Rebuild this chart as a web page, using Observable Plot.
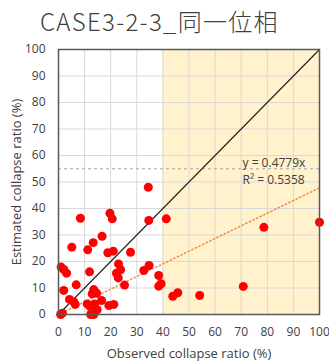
<!DOCTYPE html>
<html><head><meta charset="utf-8">
<script src="https://cdn.jsdelivr.net/npm/d3@7"></script>
<script src="https://cdn.jsdelivr.net/npm/@observablehq/plot@0.6"></script>
<style>
body{margin:0;background:#fff;}
#title{height:40px;box-sizing:border-box;padding:9px 0 0 40px;font:300 24px/1 "Noto Sans CJK JP";letter-spacing:1.3px;color:#404040;white-space:nowrap;}
</style></head><body>
<div id="title"></div>
<div id="chart"></div>
<script>
const titleText = "CASE3-2-3_同一位相";
const xLabel = "Observed collapse ratio (%)";
const yLabel = "Estimated collapse ratio (%)";
const xTicks = [0,10,20,30,40,50,60,70,80,90,100];
const yTicks = [0,10,20,30,40,50,60,70,80,90,100];
const observed  = [0.8,1.5,1.0,2.0,3.1,2.0,4.2,5.9,6.4,6.8,5.1,8.4,11.2,13.3,16.7,11.9,11.0,12.0,13.8,14.8,12.3,13.5,13.5,13.9,12.9,14.6,16.5,19.3,21.2,19.7,20.6,18.9,21.0,23.0,23.8,22.2,22.9,25.3,27.6,32.7,34.7,34.4,34.6,38.4,38.4,39.3,41.3,43.8,45.7,54.1,70.8,78.7,100];
const estimated = [0,0.5,17.9,17.0,15.6,9.1,5.7,4.7,3.8,11.2,25.4,36.3,24.4,27.1,29.5,16.1,4.0,3.1,4.0,1.8,0,0,9.4,8.4,7.8,8.0,5.3,3.4,3.8,38.2,36.1,23.3,23.9,19.1,16.9,15.6,13.8,11.1,23.5,16.6,18.5,48.0,35.5,14.7,10.7,11.6,36.1,6.9,8.2,7.2,10.6,32.9,34.8];
const shadedRange = [40, 100];
const refLevel = [55];
const diagX = [0, 100];
const slope = 0.4779;
const eqText = ["y = 0.4779x", "R² = 0.5358"];
const eqPos = [[70.5, 57.2], [70.5, 50.6]];

document.getElementById("title").textContent = titleText;
const points = observed.map((x,i)=>({x, y: estimated[i]}));
const diag = diagX.map(x=>({x, y:x}));
const trend = diagX.map(x=>({x, y: slope*x}));
const eq = eqText.map((t,i)=>({t, x: eqPos[i][0], y: eqPos[i][1]}));

const plot = Plot.plot({
  width: 329, height: 322,
  marginTop: 9, marginBottom: 48, marginLeft: 58, marginRight: 10,
  style: {fontFamily: "Open Sans", fontSize: "12px", color: "#595959", background: "#fff", overflow: "visible"},
  x: {domain: [0,100]},
  y: {domain: [0,100]},
  marks: [
    Plot.rect([shadedRange], {x1: d=>d[0], x2: d=>d[1], y1: 0, y2: 100, fill: "#FFF2CC"}),
    Plot.gridX(xTicks, {stroke: "#d9d9d9", strokeOpacity: 1, strokeWidth: 1}),
    Plot.gridY(yTicks, {stroke: "#d9d9d9", strokeOpacity: 1, strokeWidth: 1}),
    Plot.ruleY(refLevel, {stroke: "#a6a6a6", strokeDasharray: "3,3", strokeWidth: 1, ariaLabel: "refline"}),
    Plot.line(trend, {x: "x", y: "y", stroke: "#ED7D31", strokeOpacity: 0.85, strokeWidth: 1.5, strokeDasharray: "1.5,2.5"}),
    Plot.line(diag, {x: "x", y: "y", stroke: "#262626", strokeWidth: 1.2}),
    Plot.dot(points, {x: "x", y: "y", r: 4.5, fill: "#FF0000"}),
    Plot.text(eq, {x: "x", y: "y", text: "t", textAnchor: "start", fill: "#404040", fontSize: 12}),
    Plot.frame({stroke: "#595959", strokeWidth: 1.5}),
    Plot.axisX(xTicks, {tickSize: 0, tickPadding: 13, label: null, fill: "#404040"}),
    Plot.axisY(yTicks, {tickSize: 0, tickPadding: 13, label: null, fill: "#404040"}),
    Plot.text([xLabel], {frameAnchor: "bottom", dy: 39, lineAnchor: "middle", fontSize: 13, fill: "#404040"}),
    Plot.text([yLabel], {frameAnchor: "left", dx: -42, rotate: -90, textAnchor: "middle", lineAnchor: "middle", fontSize: 13, fill: "#404040"})
  ]
});
d3.select(plot).selectAll('g[aria-label="refline"] line').attr("x1", 0).attr("x2", 329);
document.getElementById("chart").appendChild(plot);
</script>
</body></html>
